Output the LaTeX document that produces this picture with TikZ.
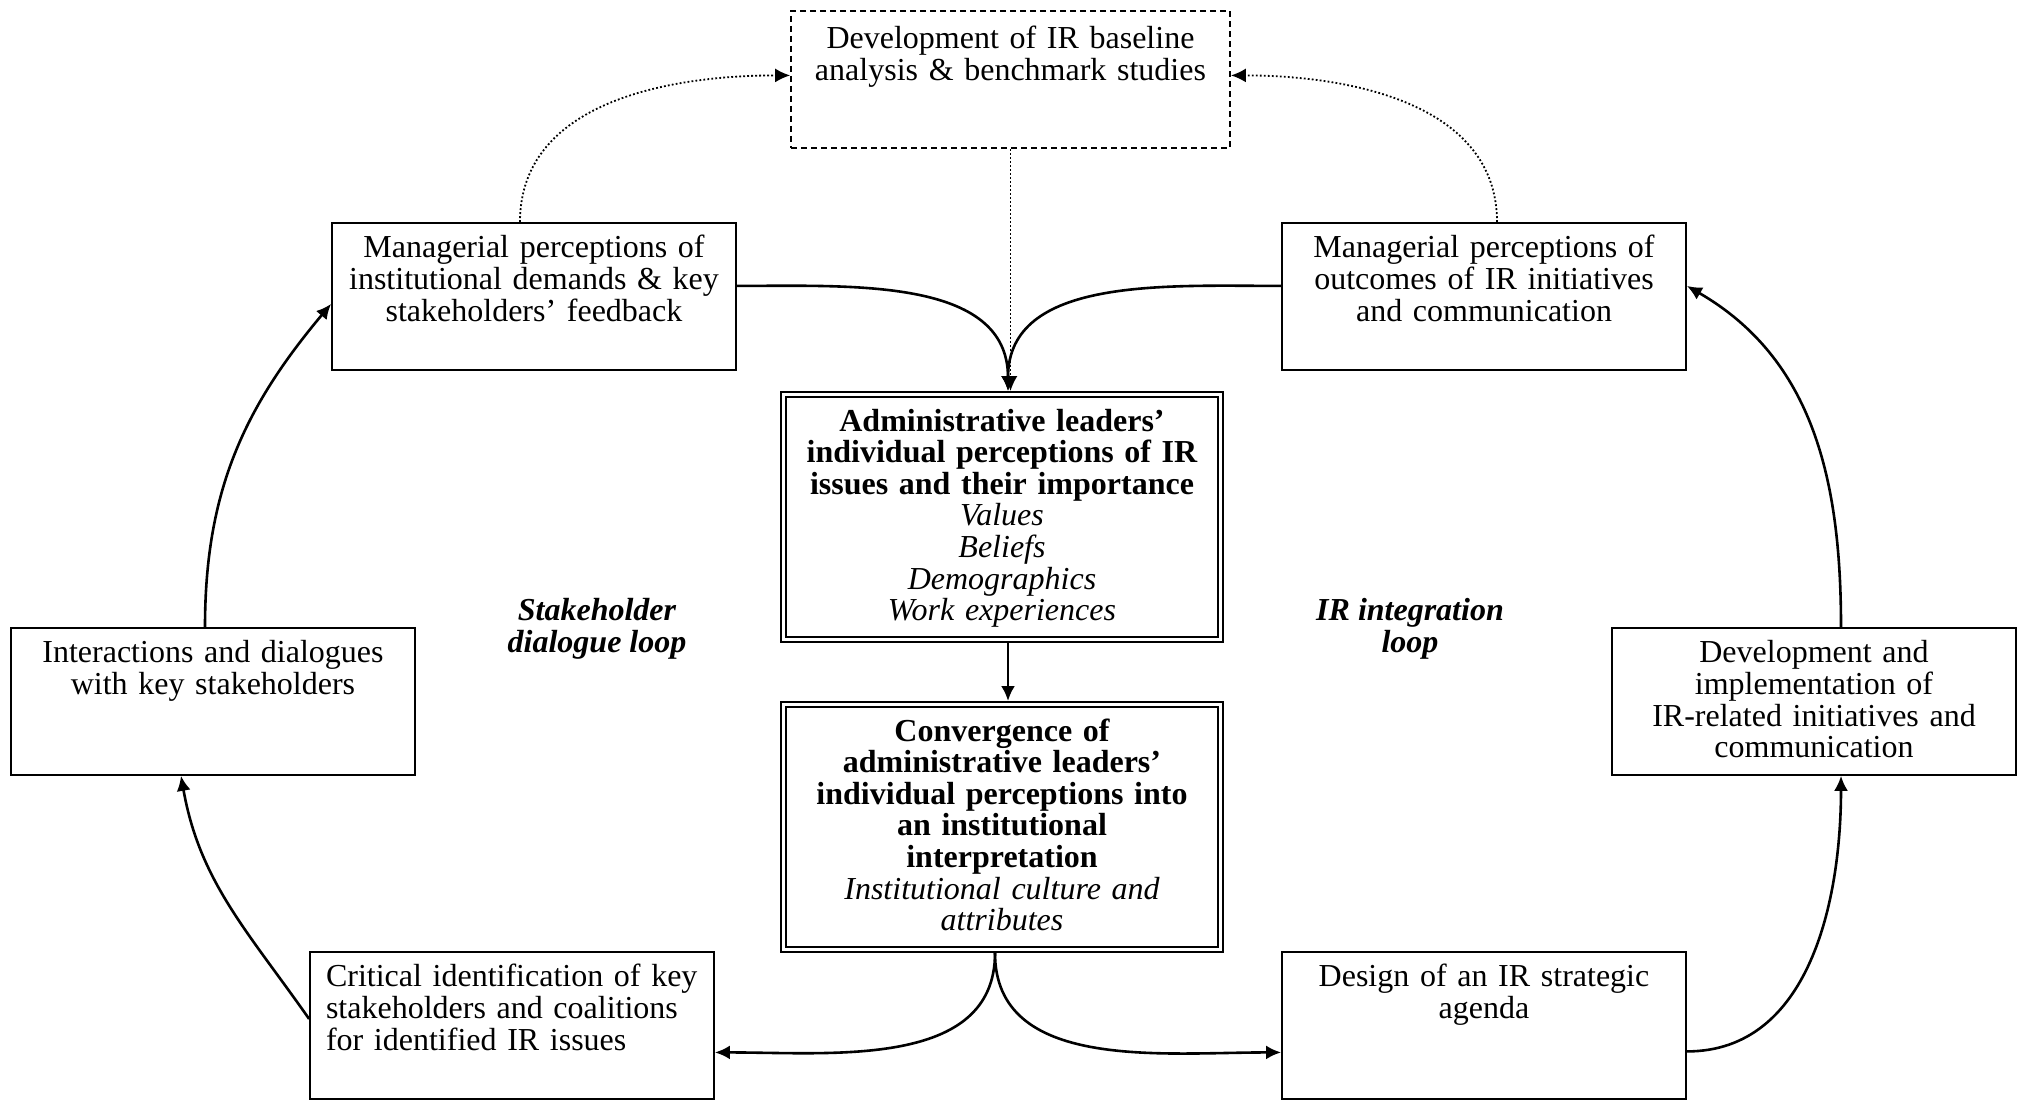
\documentclass[tikz,border=0pt]{standalone}
\usepackage{fontspec}
\setmainfont{Liberation Serif}
\usetikzlibrary{arrows.meta}

\begin{document}
\begin{tikzpicture}[>={Latex[length=7.5pt,width=7pt]},x=0.5pt,y=0.5pt,
  every node/.style={font=\fontsize{16pt}{15.8pt}\selectfont},
  plainbox/.style={draw,line width=0.9pt,anchor=north,align=center,text width=194pt,
    inner xsep=4pt,inner ysep=5.5pt,text height=12pt,text depth=50.5pt},
  dblbox/.style={draw,line width=1.1pt,double,double distance=1.2pt,outer sep=1.7pt,
    anchor=north,align=center,text width=210.6pt,inner xsep=4pt,inner ysep=6.3pt,
    text height=12pt,text depth=98pt},
  looplabel/.style={font=\fontsize{16pt}{15.8pt}\selectfont\bfseries\itshape,align=center},
  flow/.style={->,line width=1.3pt},
  dotflow/.style={->,line width=0.9pt,dash pattern=on 0.9pt off 1.1pt}]
\useasboundingbox (0,0) rectangle (2024,-1100);
% boxes
\node[plainbox,dash pattern=on 3pt off 2pt,text width=211.5pt,
  inner ysep=7pt,text depth=42.5pt] (base) at (1010.5,-10)
  {Development of IR baseline\\analysis \& benchmark studies};
\node[plainbox] (mgrL) at (534,-222)
  {Managerial perceptions of\\institutional demands \& key\\stakeholders’ feedback};
\node[plainbox] (mgrR) at (1484,-222)
  {Managerial perceptions of\\outcomes of IR initiatives\\and communication};
\node[plainbox] (interact) at (213,-627)
  {Interactions and dialogues\\with key stakeholders};
\node[plainbox] (devImpl) at (1814,-627)
  {Development and\\implementation of\\IR-related initiatives and\\communication};
\node[plainbox,align=left,inner xsep=8pt,text width=186pt] (crit) at (512,-951)
  {Critical identification of key\\stakeholders and coalitions\\for identified IR issues};
\node[plainbox] (design) at (1484,-951)
  {Design of an IR strategic\\agenda};
\node[dblbox] (adm) at (1002,-391)
  {\textbf{Administrative leaders’\\individual perceptions of IR\\issues and their importance}\\
   \textit{Values\\Beliefs\\Demographics\\Work experiences}};
\node[dblbox] (conv) at (1002,-701)
  {\textbf{Convergence of\\administrative leaders’\\individual perceptions into\\an institutional\\interpretation}\\
   \textit{Institutional culture and\\attributes}};
\node[looplabel] (sdl) at (597,-629) {Stakeholder\\dialogue loop};
\node[looplabel] (iril) at (1410,-629) {IR integration\\loop};
% dotted links to the baseline studies
\draw[dotflow] ([xshift=-7pt]mgrL.north) to[out=90,in=180] ([yshift=2pt]base.west);
\draw[dotflow] ([xshift=6.5pt]mgrR.north) to[out=90,in=0] ([yshift=2pt]base.east);
\draw[dotflow] (base.south) -- (base.south |- adm.north);
% into the leaders' perceptions
\draw[flow] ([yshift=5.25pt]mgrL.east) to[out=0,in=90] ([xshift=3pt]adm.north);
\draw[flow] ([yshift=5.25pt]mgrR.west) to[out=180,in=90] ([xshift=3pt]adm.north);
\draw[flow] ([xshift=3pt]adm.south) -- ([xshift=3pt]conv.north);
\draw[flow] ([xshift=-3.5pt]conv.south) to[out=-90,in=0] ([yshift=-13.5pt]crit.east);
\draw[flow] ([xshift=-3.5pt]conv.south) to[out=-90,in=180] ([yshift=-13.5pt]design.west);
% IR integration loop
\draw[flow] ([yshift=-13pt]design.east) to[out=0,in=-90] ([xshift=13.5pt]devImpl.south);
\draw[flow] ([xshift=13.5pt]devImpl.north) to[out=90,in=-30] ([yshift=5.25pt]mgrR.east);
% stakeholder dialogue loop
\draw[flow] ([yshift=3.25pt]crit.west) to[out=125,in=-80] ([xshift=-16pt]interact.south);
\draw[flow] ([xshift=-4pt]interact.north) to[out=90,in=-130] ([yshift=-3.75pt]mgrL.west);
\end{tikzpicture}
\end{document}
